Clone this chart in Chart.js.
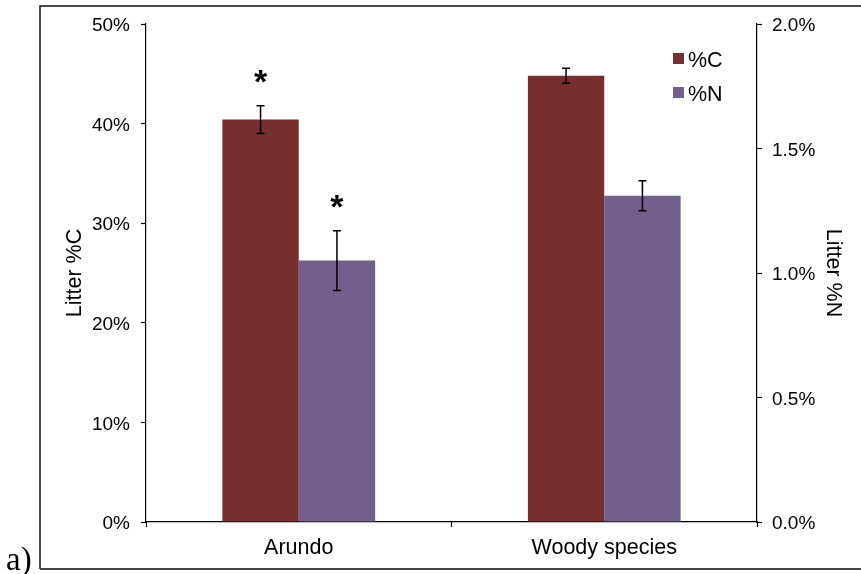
<!DOCTYPE html>
<html>
<head>
<meta charset="utf-8">
<script src="https://cdn.jsdelivr.net/npm/chart.js@4/dist/chart.umd.min.js"></script>
<style>
    html, body { margin: 0; padding: 0; background: #fff; }
    #wrap { width: 861px; height: 574px; position: relative; }
</style>
</head>
<body>
<div id="wrap"><canvas id="litterChart" width="861" height="574"></canvas></div>
<script>
// Litter chemistry by plant group (means with standard errors)
const categories = ['Arundo', 'Woody species'];
const carbonPct = [40.4, 44.8];
const carbonErr = [1.4, 0.75];
const nitrogenPct = [1.05, 1.31];
const nitrogenErr = [0.12, 0.06];
// asterisk marks a significant difference for that group
const carbonSig = [true, false];
const nitrogenSig = [true, false];

const carbonTicks = [0, 10, 20, 30, 40, 50];
const nitrogenTicks = [0, 0.5, 1.0, 1.5, 2.0];

const COLOR_C = '#75302d';
const COLOR_N = '#735e8c';
const FONT = 'Liberation Sans, Arial, Helvetica, sans-serif';

// error bars + significance stars drawn on top of each bar
const errorBarPlugin = {
    id: 'errorBars',
    afterDatasetsDraw(chart) {
        const ctx = chart.ctx;
        const sets = [
            { idx: 0, scale: chart.scales.y, vals: carbonPct, err: carbonErr, sig: carbonSig },
            { idx: 1, scale: chart.scales.y1, vals: nitrogenPct, err: nitrogenErr, sig: nitrogenSig }
        ];
        ctx.save();
        ctx.strokeStyle = '#000';
        ctx.lineWidth = 1.5;
        sets.forEach(s => {
            const meta = chart.getDatasetMeta(s.idx);
            meta.data.forEach((bar, i) => {
                const x = bar.x;
                const hi = s.scale.getPixelForValue(s.vals[i] + s.err[i]);
                const lo = s.scale.getPixelForValue(s.vals[i] - s.err[i]);
                ctx.beginPath();
                ctx.moveTo(x, hi); ctx.lineTo(x, lo);
                ctx.moveTo(x - 4, hi); ctx.lineTo(x + 4, hi);
                ctx.moveTo(x - 4, lo); ctx.lineTo(x + 4, lo);
                ctx.stroke();
                if (s.sig[i]) {
                    ctx.fillStyle = '#000';
                    ctx.font = 'bold 34px ' + FONT;
                    ctx.textAlign = 'center';
                    ctx.textBaseline = 'middle';
                    ctx.fillText('*', x, hi - 22);
                }
            });
        });
        ctx.restore();
    }
};

// frame around the figure, panel letter and the legend block
const framePlugin = {
    id: 'frame',
    beforeDraw(chart) {
        const ctx = chart.ctx;
        ctx.save();
        ctx.fillStyle = '#fff';
        ctx.fillRect(0, 0, chart.width, chart.height);
        ctx.lineWidth = 1.5;
        ctx.strokeStyle = '#111';
        ctx.beginPath();
        ctx.moveTo(chart.width, 6);
        ctx.lineTo(40, 6);
        ctx.lineTo(40, 569);
        ctx.stroke();
        ctx.strokeStyle = '#444';
        ctx.lineWidth = 2;
        ctx.beginPath();
        ctx.moveTo(40, 569);
        ctx.lineTo(chart.width, 569);
        ctx.stroke();
        ctx.restore();
    },
    afterDraw(chart) {
        const ctx = chart.ctx;
        ctx.save();
        ctx.fillStyle = '#000';
        ctx.font = '33px Liberation Serif, Times New Roman, serif';
        ctx.textAlign = 'left';
        ctx.textBaseline = 'alphabetic';
        ctx.fillText('a)', 6, 570);

        ctx.font = '21.5px ' + FONT;
        ctx.textBaseline = 'middle';
        chart.data.datasets.forEach((ds, i) => {
            const y = 58 + i * 34;
            ctx.fillStyle = ds.backgroundColor;
            ctx.fillRect(673, y - 5, 11, 11);
            ctx.fillStyle = '#000';
            ctx.fillText(ds.label, 688, y + 3);
        });
        ctx.restore();
    }
};

const axisGrid = {
    drawOnChartArea: false,
    drawTicks: true,
    tickLength: 5,
    tickWidth: 1.2,
    tickColor: '#000'
};
const axisBorder = { display: true, color: '#000', width: 1.2 };

new Chart(document.getElementById('litterChart'), {
    type: 'bar',
    data: {
        labels: categories,
        datasets: [
            {
                label: '%C',
                data: carbonPct,
                backgroundColor: COLOR_C,
                yAxisID: 'y',
                categoryPercentage: 0.5,
                barPercentage: 1.0
            },
            {
                label: '%N',
                data: nitrogenPct,
                backgroundColor: COLOR_N,
                yAxisID: 'y1',
                categoryPercentage: 0.5,
                barPercentage: 1.0
            }
        ]
    },
    options: {
        responsive: false,
        animation: false,
        devicePixelRatio: 1,
        layout: { padding: { top: 24, left: 0, right: 0, bottom: 0 } },
        plugins: {
            legend: { display: false },
            tooltip: { enabled: false }
        },
        scales: {
            x: {
                grid: { ...axisGrid, offset: true },
                border: axisBorder,
                ticks: { color: '#000', padding: 8, font: { family: FONT, size: 21.5 } },
                afterFit: scale => { scale.height = 52; }
            },
            y: {
                position: 'left',
                min: 0,
                max: 50,
                afterBuildTicks: scale => { scale.ticks = carbonTicks.map(v => ({ value: v })); },
                grid: axisGrid,
                border: axisBorder,
                ticks: {
                    color: '#000',
                    padding: 11,
                    labelOffset: 2,
                    font: { family: FONT, size: 19 },
                    callback: v => v + '%'
                },
                title: {
                    display: true,
                    text: 'Litter %C',
                    color: '#000',
                    font: { family: FONT, size: 21.5 },
                    padding: { top: 62, bottom: 0 }
                },
                afterFit: scale => { scale.width = 146; }
            },
            y1: {
                position: 'right',
                min: 0,
                max: 2.0,
                afterBuildTicks: scale => { scale.ticks = nitrogenTicks.map(v => ({ value: v })); },
                grid: axisGrid,
                border: axisBorder,
                ticks: {
                    color: '#000',
                    padding: 10,
                    labelOffset: 2,
                    font: { family: FONT, size: 19 },
                    callback: v => v.toFixed(1) + '%'
                },
                title: {
                    display: true,
                    text: 'Litter %N',
                    color: '#000',
                    font: { family: FONT, size: 21.5 },
                    padding: { top: 15, bottom: 0 }
                },
                afterFit: scale => { scale.width = 104; }
            }
        }
    },
    plugins: [framePlugin, errorBarPlugin]
});
</script>
</body>
</html>
